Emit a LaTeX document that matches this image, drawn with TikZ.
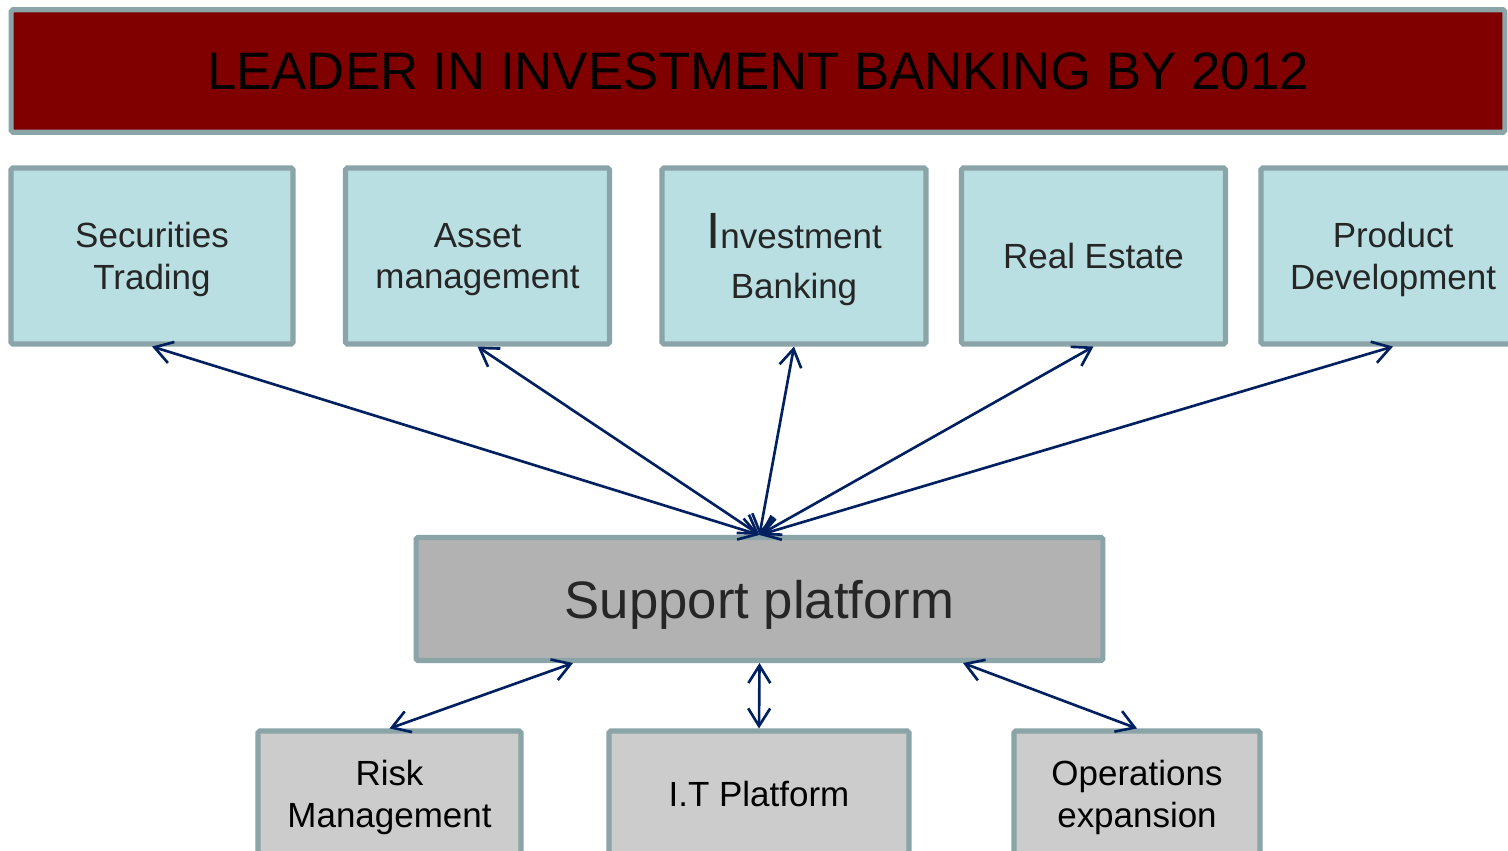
\documentclass[tikz,border=0pt]{standalone}
\usepackage{fontspec}
\setmainfont{Liberation Sans}
\usetikzlibrary{arrows.meta}

\definecolor{rimgray}{HTML}{8AA4A7}
\definecolor{bannerred}{HTML}{800000}
\definecolor{paleteal}{HTML}{B9DFE3}
\definecolor{platgray}{HTML}{B2B2B2}
\definecolor{unitgray}{HTML}{CCCCCC}
\definecolor{linknavy}{HTML}{002060}
\definecolor{inkgray}{HTML}{262626}

\tikzset{
  box/.style={draw=rimgray, line width=2.9pt, rounded corners=1pt, inner sep=0pt,
    align=center, text depth=0pt, font=\fontsize{19.9}{23.8}\selectfont},
  areabox/.style={box, fill=paleteal, text=inkgray, minimum width=5.28cm, minimum height=3.52cm},
  unitbox/.style={box, fill=unitgray, text=black, minimum height=2.52cm},
  link/.style={draw=linknavy, line width=1.5pt,
    {Straight Barb[length=10pt,width=12.5pt]}-{Straight Barb[length=10pt,width=12.5pt]}}
}

\begin{document}
\begin{tikzpicture}[x=0.02cm, y=-0.02cm]
    \useasboundingbox (0,0) rectangle (1508,851);
    \clip (0,0) rectangle (1508,851);
    % goal banner
    \node[box, fill=bannerred, text=black, minimum width=29.88cm, minimum height=2.45cm,
      font=\fontsize{30}{36}\selectfont] (goal) at (758,71) {LEADER IN INVESTMENT BANKING BY 2012};
    % business areas
    \node[areabox, minimum width=5.64cm] (sec) at (152,256) {Securities\\Trading};
    \node[areabox] (asset) at (477.5,256) {Asset\\management};
    \node[areabox] (inv) at (794,256) {{\fontsize{29}{30}\selectfont I}nvestment\\[5pt]Banking};
    \node[areabox] (real) at (1093.5,256) {Real Estate};
    \node[areabox] (prod) at (1393,256) {Product\\Development};
    % support platform
    \node[box, fill=platgray, text=inkgray, minimum width=13.74cm, minimum height=2.46cm,
      font=\fontsize{30}{36}\selectfont] (sp) at (759.5,599) {Support platform};
    % support units
    \node[unitbox, minimum width=5.26cm] (risk) at (389.5,794) {Risk\\Management};
    \node[unitbox, minimum width=6.0cm] (itp) at (759,794) {I.T Platform};
    \node[unitbox, minimum width=4.92cm] (ops) at (1137,794) {Operations\\expansion};
    % links
    \foreach \area in {sec,asset,inv,real,prod}
        \draw[link] (sp.north) -- (\area.south);
    \draw[link] ([xshift=-3.73cm]sp.south) -- (risk.north);
    \draw[link] (sp.south) -- (itp.north);
    \draw[link] ([xshift=4.07cm]sp.south) -- (ops.north);
\end{tikzpicture}
\end{document}
